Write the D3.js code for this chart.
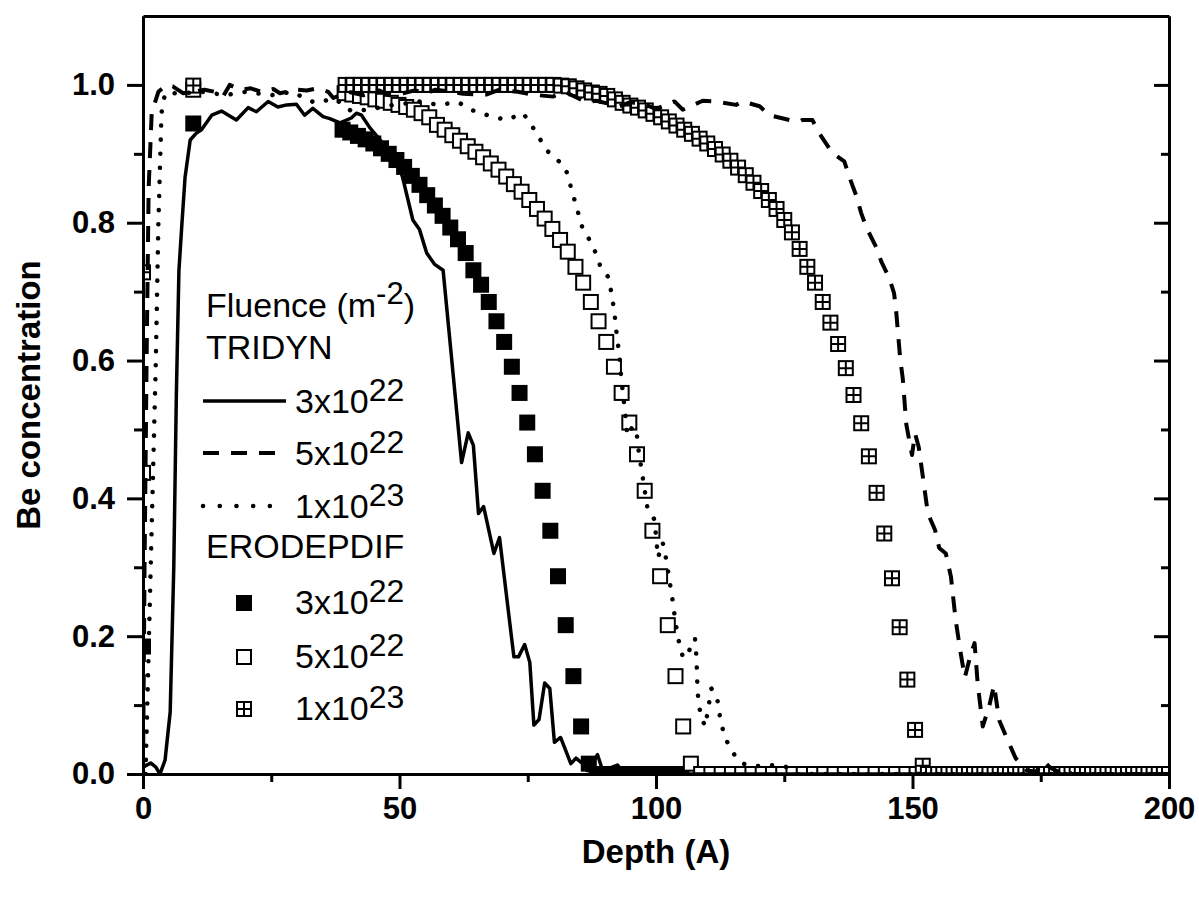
<!DOCTYPE html>
<html>
<head>
<meta charset="utf-8">
<style>
  body { margin: 0; background: #fff; }
  text { font-family: "Liberation Sans", Arial, sans-serif; fill: #000; }
</style>
</head>
<body>
<script src="https://cdn.jsdelivr.net/npm/d3@7"></script>
<script>
// TRIDYN profiles, [depth, concentration]
const tridyn3e22 = [[0,0.01],[1.5,0.016],[2.5,0.01],[3.3,0],[4.3,0.02],[5.3,0.09],[6,0.3],[6.5,0.55],[7,0.73],[7.6,0.8],[8.2,0.866],[9.2,0.92],[10.4,0.93],[11.4,0.935],[13.4,0.956],[15.3,0.962],[18.2,0.949],[20.5,0.967],[22.1,0.961],[24.4,0.976],[26.3,0.968],[28,0.971],[29.9,0.972],[31.5,0.956],[33.1,0.966],[35.1,0.954],[36.4,0.951],[38.4,0.945],[40.6,0.952],[41.6,0.959],[42.6,0.956],[44.2,0.938],[46.7,0.916],[49.4,0.893],[50.6,0.866],[52.6,0.804],[53.9,0.79],[55.3,0.756],[56.8,0.74],[58.5,0.731],[60.2,0.6],[62.1,0.452],[63.4,0.495],[64.4,0.477],[65.4,0.378],[66.4,0.388],[68.4,0.32],[69.5,0.343],[71,0.25],[72.3,0.17],[73.2,0.17],[74.4,0.188],[75.4,0.162],[76.2,0.071],[77.2,0.079],[78.3,0.132],[79.3,0.124],[80.2,0.046],[81.4,0.053],[83.4,0.015],[84.4,0.023],[85.7,0.015],[86.6,0.005],[88.6,0.028],[89.6,0.005],[92.5,0.013],[93.5,0.003],[100,0],[200,0]];

const tridyn5e22 = [[0,0],[0.3,0.3],[0.7,0.6],[1.1,0.85],[1.7,0.96],[3,0.99],[4.6,1.0],[5.8,0.998],[7.8,0.988],[10,0.99],[12,0.993],[14,0.99],[15.6,0.983],[16.9,1.0],[18.9,0.993],[21,0.995],[23.1,0.99],[25.4,0.994],[26.7,0.988],[29.9,0.993],[31.9,0.992],[34,0.995],[36.1,0.99],[37.1,0.981],[40,0.99],[43,0.985],[46,0.992],[48,0.985],[50.7,0.988],[53,0.992],[55.3,0.988],[57,0.993],[60.4,0.99],[62.4,0.987],[66.9,0.986],[69.5,0.993],[73.1,0.99],[75.7,0.986],[79.9,0.983],[82.2,0.99],[86.4,0.975],[88.3,0.977],[92.9,0.969],[95,0.975],[98.7,0.969],[100,0.965],[103.6,0.976],[105.2,0.964],[109.1,0.977],[111.4,0.976],[115.6,0.971],[116.9,0.976],[120.2,0.969],[122.1,0.956],[126,0.949],[128,0.947],[128.5,0.949],[130.5,0.949],[131.8,0.93],[134.4,0.901],[136.7,0.889],[138,0.86],[139,0.84],[140,0.814],[141,0.793],[142.9,0.765],[143.9,0.744],[145.5,0.719],[146.4,0.698],[146.8,0.673],[147.6,0.603],[148.1,0.574],[148.8,0.507],[149.9,0.463],[150.5,0.494],[151.2,0.475],[152.1,0.427],[153,0.378],[154.4,0.354],[155.2,0.328],[156.5,0.32],[157.5,0.286],[158.4,0.224],[159.4,0.175],[160.2,0.14],[161.4,0.175],[162.1,0.19],[162.7,0.132],[163.7,0.069],[165,0.1],[165.9,0.129],[166.9,0.078],[168.8,0.045],[170.1,0.023],[172.1,0.006],[174,0.003],[175.7,0.018],[176.7,0.01],[178.5,0.003],[179.9,0.008],[181,0],[200,0]];

const tridyn1e23 = [[0.5,0],[1,0.15],[1.5,0.3],[2,0.45],[2.5,0.6],[3,0.8],[3.6,0.959],[4.3,0.988],[7.9,0.988],[12,0.99],[16,0.985],[20,0.99],[25,0.985],[29,0.99],[33.5,0.974],[37.4,0.98],[40.6,0.962],[44,0.964],[48,0.97],[53.9,0.976],[57.5,0.971],[61.4,0.975],[64.3,0.963],[67.2,0.956],[70.8,0.949],[74.1,0.959],[76.3,0.935],[78.7,0.905],[82.3,0.881],[83.4,0.852],[84.5,0.823],[85.6,0.794],[87.8,0.765],[89.1,0.738],[90.7,0.721],[91.5,0.691],[92,0.662],[92.4,0.634],[92.9,0.606],[93.2,0.576],[94,0.523],[94.4,0.491],[95.5,0.505],[96.3,0.49],[96.6,0.47],[97.1,0.445],[98.3,0.388],[99.7,0.369],[100.4,0.314],[101.3,0.336],[102,0.311],[102.6,0.282],[103.2,0.254],[103.7,0.226],[104.3,0.197],[105.3,0.168],[106.2,0.175],[107.6,0.197],[107.9,0.168],[108,0.14],[108.2,0.112],[108.7,0.084],[109.6,0.069],[110.2,0.096],[110.8,0.124],[111.9,0.111],[112.5,0.081],[113.4,0.053],[115.5,0.025],[117,0.015],[119.3,0.011],[121.9,0.013],[125.2,0.011],[127,0],[200,0]];

// ERODEPDIF profiles, [depth, concentration]
const erodep3e22 = [[0,0.185],[9.8,0.944],[38.9,0.935],[40.4,0.931],[41.9,0.926],[43.4,0.921],[44.9,0.915],[46.4,0.908],[47.9,0.9],[49.4,0.891],[50.9,0.881],[52.4,0.868],[53.9,0.855],[55.4,0.84],[56.9,0.825],[58.4,0.81],[59.9,0.793],[61.4,0.776],[62.9,0.756],[64.4,0.731],[65.9,0.71],[67.4,0.685],[68.9,0.657],[70.4,0.627],[71.9,0.591],[73.4,0.553],[74.9,0.51],[76.4,0.464],[77.9,0.411],[79.4,0.353],[80.9,0.287],[82.4,0.216],[83.9,0.142],[85.4,0.069],[86.9,0.015],[88.4,0],[89.9,0],[91.4,0],[92.9,0],[94.4,0],[95.9,0],[97.4,0],[98.9,0],[100.4,0],[101.9,0],[103.4,0],[104.9,0]];

const erodep5e22 = [[0,0.437],[9.8,0.993],[39.3,0.988],[40.8,0.986],[42.3,0.984],[43.8,0.982],[45.3,0.979],[46.8,0.977],[48.3,0.974],[49.8,0.971],[51.3,0.968],[52.8,0.964],[54.3,0.959],[55.8,0.953],[57.3,0.942],[58.8,0.935],[60.3,0.927],[61.8,0.919],[63.3,0.911],[64.8,0.903],[66.3,0.895],[67.8,0.886],[69.3,0.877],[70.8,0.867],[72.3,0.856],[73.8,0.845],[75.3,0.833],[76.8,0.82],[78.3,0.806],[79.8,0.791],[81.3,0.775],[82.8,0.758],[84.3,0.736],[85.8,0.713],[87.3,0.685],[88.8,0.657],[90.3,0.627],[91.8,0.591],[93.3,0.553],[94.8,0.51],[96.3,0.464],[97.8,0.411],[99.3,0.353],[100.8,0.287],[102.3,0.216],[103.8,0.142],[105.3,0.069],[106.8,0.015],[108.8,0],[110.8,0],[112.8,0],[114.8,0],[116.8,0],[118.8,0],[120.8,0],[122.8,0],[124.8,0],[126.8,0],[128.8,0],[130.8,0],[132.8,0],[134.8,0],[136.8,0],[138.8,0],[140.8,0],[142.8,0],[144.8,0],[146.8,0],[148.8,0],[150.8,0]];

const erodep1e23 = [[0,0.728],[9.8,0.999],[39.5,1.0],[41,1.0],[42.5,1.0],[44,1.0],[45.5,1.0],[47,1.0],[48.5,1.0],[50,1.0],[51.5,1.0],[53,1.0],[54.5,1.0],[56,1.0],[57.5,1.0],[59,1.0],[60.5,1.0],[62,1.0],[63.5,1.0],[65,1.0],[66.5,1.0],[68,1.0],[69.5,1.0],[71,1.0],[72.5,1.0],[74,1.0],[75.5,1.0],[77,1.0],[78.5,1.0],[80,1.0],[81.5,0.999],[83,0.998],[84.5,0.995],[86,0.992],[87.5,0.989],[89,0.987],[90.5,0.984],[92,0.979],[93.5,0.974],[95,0.97],[96.5,0.967],[98,0.963],[99.5,0.958],[101,0.953],[102.5,0.947],[104,0.941],[105.5,0.935],[107,0.929],[108.5,0.922],[110,0.915],[111.5,0.907],[113,0.899],[114.5,0.89],[116,0.88],[117.5,0.869],[119,0.858],[120.5,0.846],[122,0.833],[123.5,0.82],[125,0.804],[126.5,0.786],[128,0.762],[129.5,0.736],[131,0.713],[132.5,0.685],[134,0.655],[135.5,0.624],[137,0.589],[138.5,0.55],[140,0.509],[141.5,0.461],[143,0.408],[144.5,0.349],[146,0.284],[147.5,0.213],[149,0.137],[150.5,0.064],[152,0.012],[153,0],[154,0],[155,0],[156,0],[157,0],[158,0],[159,0],[160,0],[161,0],[162,0],[163,0],[164,0],[165,0],[166,0],[167,0],[168,0],[169,0],[170,0],[171,0],[172,0],[173,0],[174,0],[175,0],[176,0],[177,0],[178,0],[179,0],[180,0],[181,0],[182,0],[183,0],[184,0],[185,0],[186,0],[187,0],[188,0],[189,0],[190,0],[191,0],[192,0],[193,0],[194,0],[195,0],[196,0],[197,0],[198,0],[199,0],[200,0]];

const xMajorTicks = [0, 50, 100, 150, 200];
const xMinorTicks = [25, 75, 125, 175];
const yMajorTicks = [0, 0.2, 0.4, 0.6, 0.8, 1.0];
const yMinorTicks = [0.1, 0.3, 0.5, 0.7, 0.9];
const fluenceLabels = [['3x10', '22'], ['5x10', '22'], ['1x10', '23']];

const width = 1199, height = 899;
const svg = d3.select('body').append('svg')
  .attr('width', width)
  .attr('height', height);

const x = d3.scaleLinear().domain([0, 200]).range([143, 1169]);
const y = d3.scaleLinear().domain([0, 1.1]).range([774, 16]);

svg.append('clipPath').attr('id', 'plot')
  .append('rect')
  .attr('x', x(0)).attr('y', y(1.1))
  .attr('width', x(200) - x(0)).attr('height', y(0) - y(1.1));

const plot = svg.append('g').attr('clip-path', 'url(#plot)');

// markers
function drawMarkers(data, kind) {
  const g = plot.append('g');
  const s = 16;
  const m = g.selectAll('g').data(data).join('g')
    .attr('transform', d => `translate(${x(d[0])},${y(d[1])})`);
  if (kind === 'filled') {
    m.append('rect').attr('x', -s / 2).attr('y', -s / 2)
      .attr('width', s).attr('height', s).attr('fill', '#000');
  } else {
    m.append('rect').attr('x', -s / 2 + 1).attr('y', -s / 2 + 1)
      .attr('width', s - 2).attr('height', s - 2)
      .attr('fill', '#fff').attr('stroke', '#000').attr('stroke-width', 2);
    if (kind === 'cross') {
      m.append('path').attr('d', `M0,${-s / 2 + 1}V${s / 2 - 1}M${-s / 2 + 1},0H${s / 2 - 1}`)
        .attr('stroke', '#000').attr('stroke-width', 2);
    }
  }
}
drawMarkers(erodep3e22, 'filled');
drawMarkers(erodep5e22, 'open');
drawMarkers(erodep1e23, 'cross');

// lines
const line = d3.line().x(d => x(d[0])).y(d => y(d[1]));
const styles = {
  solid: { w: 3.5, dash: null, cap: 'butt' },
  dash: { w: 4, dash: '16 12', cap: 'butt' },
  dot: { w: 4.5, dash: '0.1 14', cap: 'round' }
};
[[tridyn3e22, 'solid'], [tridyn5e22, 'dash'], [tridyn1e23, 'dot']].forEach(([data, st]) => {
  plot.append('path').datum(data)
    .attr('d', line)
    .attr('fill', 'none')
    .attr('stroke', '#000')
    .attr('stroke-width', styles[st].w)
    .attr('stroke-dasharray', styles[st].dash)
    .attr('stroke-linecap', styles[st].cap)
    .attr('stroke-linejoin', 'round');
});

// axes
function styleAxis(g, size) {
  g.select('.domain').attr('stroke-width', 3);
  g.selectAll('.tick line').attr('stroke-width', 3);
  g.selectAll('.tick text')
    .attr('font-size', size)
    .attr('font-weight', 'bold')
    .attr('font-family', '"Liberation Sans", Arial, sans-serif');
}

svg.append('g').attr('transform', `translate(0,${y(0)})`)
  .call(d3.axisBottom(x).tickValues(xMinorTicks).tickSize(8).tickSizeOuter(0).tickFormat(''))
  .call(g => styleAxis(g, 31));
svg.append('g').attr('transform', `translate(0,${y(0)})`)
  .call(d3.axisBottom(x).tickValues(xMajorTicks).tickSize(15).tickSizeOuter(0).tickPadding(8))
  .call(g => styleAxis(g, 31));

svg.append('g').attr('transform', `translate(${x(0)},0)`)
  .call(d3.axisLeft(y).tickValues(yMinorTicks).tickSize(9).tickSizeOuter(0).tickFormat(''))
  .call(g => styleAxis(g, 31));
svg.append('g').attr('transform', `translate(${x(0)},0)`)
  .call(d3.axisLeft(y).tickValues(yMajorTicks).tickSize(16).tickSizeOuter(0).tickPadding(12)
    .tickFormat(d3.format('.1f')))
  .call(g => styleAxis(g, 31));

// right axis, ticks pointing in
svg.append('g').attr('transform', `translate(${x(200)},0)`)
  .call(d3.axisLeft(y).tickValues(yMinorTicks).tickSize(8).tickSizeOuter(0).tickFormat(''))
  .call(g => styleAxis(g, 31));
svg.append('g').attr('transform', `translate(${x(200)},0)`)
  .call(d3.axisLeft(y).tickValues(yMajorTicks).tickSize(15).tickSizeOuter(0).tickFormat(''))
  .call(g => styleAxis(g, 31));

// top frame
svg.append('g').attr('transform', `translate(0,${y(1.1)})`)
  .call(d3.axisTop(x).tickValues([]).tickSizeOuter(0))
  .call(g => styleAxis(g, 31));

// axis titles
svg.append('text')
  .attr('x', (x(0) + x(200)) / 2).attr('y', 863)
  .attr('text-anchor', 'middle')
  .attr('font-size', 33).attr('font-weight', 'bold')
  .text('Depth (A)');

svg.append('text')
  .attr('transform', `translate(40,${(y(0) + y(1.1)) / 2}) rotate(-90)`)
  .attr('text-anchor', 'middle')
  .attr('font-size', 33).attr('font-weight', 'bold')
  .text('Be concentration');

// legend
const leg = svg.append('g');
const fs = 34;
const head = leg.append('text').attr('x', 206).attr('y', 317).attr('font-size', fs);
head.append('tspan').text('Fluence (m');
head.append('tspan').attr('font-size', 31).attr('dy', -13).text('-2');
head.append('tspan').attr('dy', 13).text(')');
leg.append('text').attr('x', 206).attr('y', 359).attr('font-size', fs).text('TRIDYN');
leg.append('text').attr('x', 206).attr('y', 558).attr('font-size', fs).text('ERODEPDIF');

const rowY = [413, 465, 518, 614, 668, 720];
const rowKinds = ['solid', 'dash', 'dot', 'filled', 'open', 'cross'];
rowY.forEach((ry, i) => {
  const lab = fluenceLabels[i % 3];
  const t = leg.append('text').attr('x', 295).attr('y', ry).attr('font-size', fs);
  t.append('tspan').text(lab[0]);
  t.append('tspan').attr('font-size', 32).attr('dy', -12).text(lab[1]);
  const k = rowKinds[i];
  if (styles[k]) {
    leg.append('line')
      .attr('x1', 203).attr('x2', 286).attr('y1', ry - 12).attr('y2', ry - 12)
      .attr('stroke', '#000')
      .attr('stroke-width', styles[k].w)
      .attr('stroke-dasharray', styles[k].dash === '0.1 14' ? '0.1 16.6' : styles[k].dash)
      .attr('stroke-linecap', styles[k].cap);
  } else {
    const s = 16, cx = 244, cy = ry - 11;
    if (k === 'filled') {
      leg.append('rect').attr('x', cx - s / 2).attr('y', cy - s / 2)
        .attr('width', s).attr('height', s).attr('fill', '#000');
    } else {
      leg.append('rect').attr('x', cx - s / 2 + 1).attr('y', cy - s / 2 + 1)
        .attr('width', s - 2).attr('height', s - 2)
        .attr('fill', '#fff').attr('stroke', '#000').attr('stroke-width', 2);
      if (k === 'cross') {
        leg.append('path').attr('d', `M${cx},${cy - s / 2 + 1}V${cy + s / 2 - 1}M${cx - s / 2 + 1},${cy}H${cx + s / 2 - 1}`)
          .attr('stroke', '#000').attr('stroke-width', 2);
      }
    }
  }
});
</script>
</body>
</html>
